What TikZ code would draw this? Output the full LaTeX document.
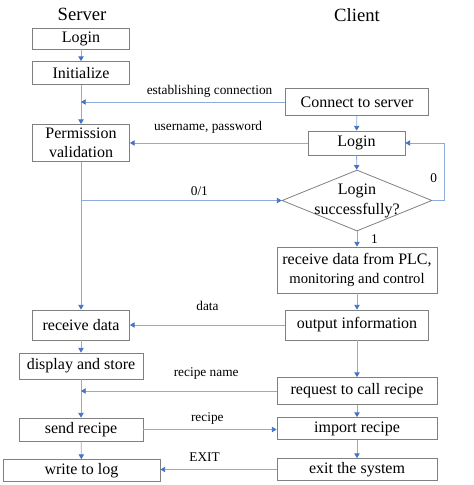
\documentclass[tikz,border=0pt]{standalone}
\usepackage{fontspec}
\setmainfont{Liberation Serif}
\usetikzlibrary{arrows.meta,shapes.geometric}
\definecolor{lineblue}{RGB}{143,170,220}
\definecolor{tipblue}{RGB}{68,114,196}
\definecolor{boxgray}{RGB}{128,128,128}
\begin{document}
\begin{tikzpicture}[x=0.75pt, y=-0.75pt,
    box/.style={draw=boxgray, line width=0.6pt, inner sep=1pt, align=center, font=\fontsize{12}{14}\selectfont},
    decision/.style={draw=boxgray, line width=0.6pt, diamond, inner sep=0pt, minimum width=112.5pt, minimum height=45.75pt},
    flow/.style={draw=lineblue, line width=0.6pt, -{Triangle[width=4pt,length=3.5pt,color=tipblue]}},
    link/.style={draw=lineblue, line width=0.6pt},
    lbl/.style={font=\fontsize{10}{12}\selectfont},
    title/.style={font=\fontsize{14}{16}\selectfont}]
    \useasboundingbox (0,0) rectangle (474,485);
    % titles
    \node[title] (server) at (82,14) {Server};
    \node[title] (client) at (357,15) {Client};
    % server side
    \node[box, minimum width=72.75pt, minimum height=15.75pt] (slogin) at (81,38.5) {Login};
    \node[box, minimum width=72.75pt, minimum height=17.25pt] (sinit) at (81,73) {Initialize};
    \node[box, minimum width=72.75pt, minimum height=27.75pt] (sperm) at (81,143) {Permission\\validation};
    \node[box, minimum width=72.75pt, minimum height=22.5pt] (srecv) at (81,325) {receive data};
    \node[box, minimum width=93pt, minimum height=19.5pt] (sdisp) at (81,366) {display and store};
    \node[box, minimum width=93pt, minimum height=17.25pt] (ssend) at (81,429.5) {send recipe};
    \node[box, minimum width=117.75pt, minimum height=16.5pt] (slog) at (81.5,470.5) {write to log};
    % client side
    \node[box, minimum width=107.25pt, minimum height=20.25pt] (ccon) at (357,102) {Connect to server};
    \node[box, minimum width=72.75pt, minimum height=18pt] (clogin) at (356.5,143) {Login};
    \node[decision] (chk) at (357,200.5) {};
    \node[align=center, font=\fontsize{12}{15}\selectfont] (chktxt) at (chk) {Login\\successfully?};
    \node[box, minimum width=120pt, minimum height=34.5pt] (cplc) at (357,270) {receive data from PLC,\\ \fontsize{11}{13}\selectfont monitoring and control};
    \node[box, minimum width=107.25pt, minimum height=22.5pt] (cout) at (357,325) {output information};
    \node[box, minimum width=120pt, minimum height=20.25pt] (creq) at (357,391) {request to call recipe};
    \node[box, minimum width=120pt, minimum height=16.5pt] (cimp) at (357,428.5) {import recipe};
    \node[box, minimum width=120pt, minimum height=16.5pt] (cexit) at (357,469.5) {exit the system};
    % server flow
    \draw[flow] (slogin) -- (sinit);
    \draw[flow] (sinit) -- (sperm);
    \draw[flow] (sperm) -- (srecv);
    \draw[flow] (srecv) -- (sdisp);
    \draw[flow] (sdisp) -- (ssend);
    \draw[flow] (ssend) -- (slog);
    % client flow
    \draw[flow] (ccon) -- (clogin);
    \draw[flow] (clogin) -- (chk);
    \draw[flow] (chk) -- node[midway, right=7pt, lbl] {1} (cplc);
    \draw[flow] (cplc) -- (cout);
    \draw[flow] (cout) -- (creq);
    \draw[flow] (creq) -- (cimp);
    \draw[flow] (cimp) -- (cexit);
    \draw[flow] (chk.east) -- ++(12,0) node[pos=0.1, above=10pt, lbl] {0} |- (clogin.east);
    % messages
    \draw[flow] (ccon.west) -- node[pos=0.37, above, lbl] {establishing connection} (sinit.south |- ccon.west);
    \draw[flow] (clogin.west) -- node[pos=0.56, above=3.4pt, lbl] {username, password} (sperm.east);
    \draw[flow] (sperm.south |- chk.west) -- node[pos=0.59, above, lbl] {0/1} (chk.west);
    \draw[flow] (cout.west) -- node[pos=0.5, above=7.4pt, lbl] {data} (srecv.east);
    \draw[flow] (creq.west) -- node[pos=0.36, above=4.9pt, lbl] {recipe name} (sdisp.south |- creq.west);
    \draw[flow] (ssend.east) -- node[pos=0.48, above, lbl] {recipe} (ssend.east -| cimp.west);
    \draw[flow] (cexit.west) -- node[pos=0.62, above=2.4pt, lbl] {EXIT} (cexit.west -| slog.east);
\end{tikzpicture}
\end{document}
